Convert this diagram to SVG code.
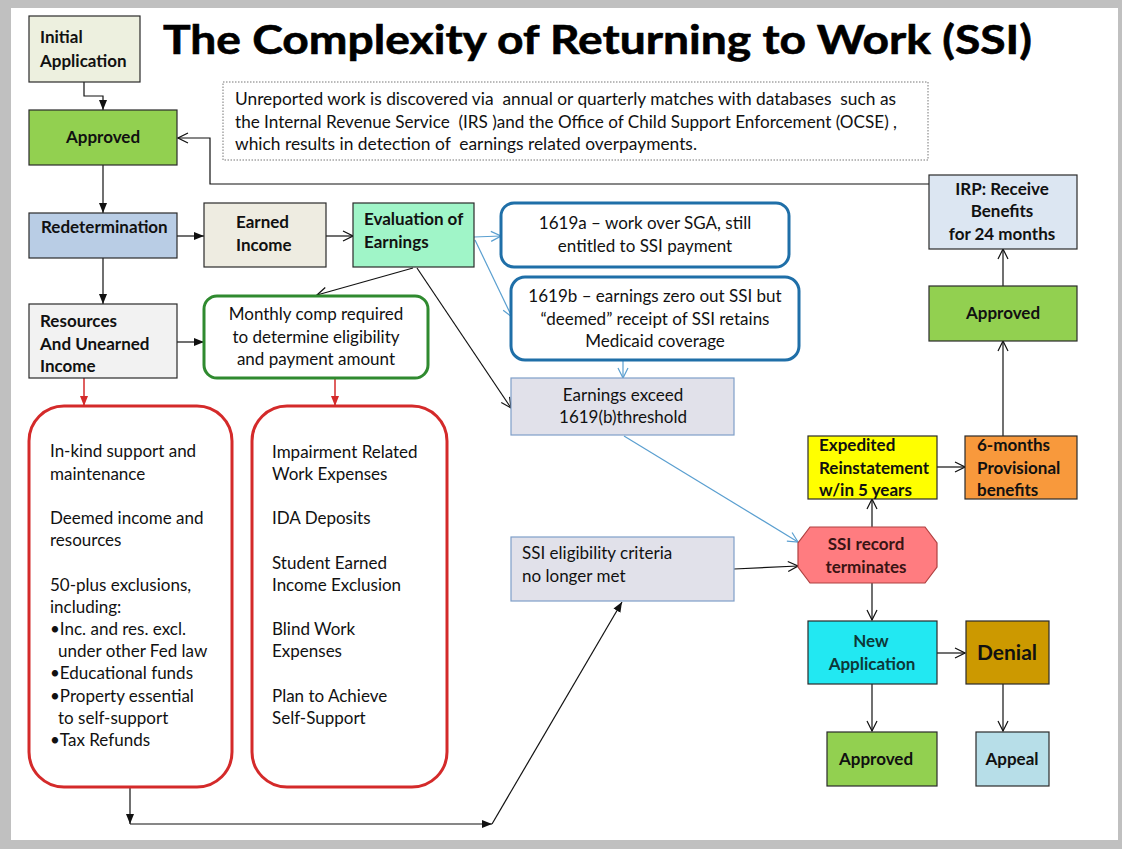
<svg xmlns="http://www.w3.org/2000/svg" width="1122" height="849" viewBox="0 0 1122 849">
<style>
.b{font-family:Lato,"Open Sans","Liberation Sans",sans-serif;font-weight:700;font-size:17px;fill:#111}
.r{font-family:Lato,"Open Sans","Liberation Sans",sans-serif;font-weight:400;font-size:17px;fill:#111}
.c{text-anchor:middle}
.pre{white-space:pre}
.box{stroke:#2a2a2a;stroke-width:1.2}
.k{fill:none;stroke:#111;stroke-width:1.2}
.bl{fill:none;stroke:#5a9fd0;stroke-width:1.2}
.rd{fill:none;stroke:#d42a2a;stroke-width:1.5}
.lav{fill:#e1e1ea;stroke:#7f9fc8;stroke-width:1.2}
</style>
<defs>
<marker id="af" viewBox="0 0 10 10" refX="10" refY="5" markerWidth="10" markerHeight="10" markerUnits="userSpaceOnUse" orient="auto"><path d="M0,1 L10,5 L0,9 z" fill="#111"/></marker>
<marker id="ao" viewBox="-1 -1 12 12" refX="10" refY="5" markerWidth="12" markerHeight="12" markerUnits="userSpaceOnUse" orient="auto"><path d="M0,0 L10,5 L0,10" fill="none" stroke="#111" stroke-width="1.2"/></marker>
<marker id="ab" viewBox="-1 -1 12 12" refX="10" refY="5" markerWidth="12" markerHeight="12" markerUnits="userSpaceOnUse" orient="auto"><path d="M0,0 L10,5 L0,10" fill="none" stroke="#5a9fd0" stroke-width="1.2"/></marker>
<marker id="ar" viewBox="0 0 10 10" refX="10" refY="5" markerWidth="10" markerHeight="10" markerUnits="userSpaceOnUse" orient="auto"><path d="M0,1 L10,5 L0,9 z" fill="#d42a2a"/></marker>
</defs>
<rect x="0" y="0" width="1122" height="849" fill="#c0c0c0"/>
<rect x="11" y="8" width="1107" height="832" fill="#ffffff"/>

<text x="163" y="54" font-family="Lato,'Open Sans','Liberation Sans',sans-serif" font-weight="700" font-size="40" fill="#000" stroke="#000" stroke-width="0.6" textLength="869" lengthAdjust="spacingAndGlyphs">The Complexity of Returning to Work (SSI)</text>

<g id="connectors">
<polyline points="84,82 84,96 103,96 103,110" class="k" marker-end="url(#af)"/>
<polyline points="929,184 210,184 210,138 178,138" class="k" marker-end="url(#ao)"/>
<line x1="103" y1="165" x2="103" y2="213" class="k" marker-end="url(#af)"/>
<line x1="177" y1="236" x2="204" y2="236" class="k" marker-end="url(#af)"/>
<line x1="326" y1="236" x2="353" y2="236" class="k" marker-end="url(#ao)"/>
<line x1="103" y1="258" x2="103" y2="304" class="k" marker-end="url(#af)"/>
<line x1="177" y1="342" x2="204" y2="342" class="k" marker-end="url(#af)"/>
<line x1="413" y1="268" x2="317" y2="295" class="k" marker-end="url(#ao)"/>
<line x1="417" y1="268" x2="511" y2="408" class="k" marker-end="url(#ao)"/>
<line x1="474" y1="237" x2="501" y2="236" class="bl" marker-end="url(#ab)"/>
<line x1="475" y1="240" x2="512" y2="317" class="bl" marker-end="url(#ab)"/>
<line x1="623" y1="360" x2="623" y2="378" class="bl" marker-end="url(#ab)"/>
<line x1="624" y1="436" x2="798" y2="542" class="bl" marker-end="url(#ab)"/>
<line x1="84" y1="378" x2="84" y2="406" class="rd" marker-end="url(#ar)"/>
<line x1="335" y1="378" x2="335" y2="406" class="rd" marker-end="url(#ar)"/>
<line x1="130" y1="787" x2="130" y2="824" class="k" marker-end="url(#af)"/>
<line x1="130" y1="824" x2="492" y2="824" class="k" marker-end="url(#af)"/>
<line x1="492" y1="824" x2="622" y2="602" class="k" marker-end="url(#af)"/>
<line x1="734" y1="569" x2="798" y2="566" class="k" marker-end="url(#ao)"/>
<line x1="872" y1="527" x2="872" y2="499" class="k" marker-end="url(#ao)"/>
<line x1="937" y1="467" x2="965" y2="467" class="k" marker-end="url(#ao)"/>
<line x1="1003" y1="436" x2="1003" y2="341" class="k" marker-end="url(#ao)"/>
<line x1="1003" y1="286" x2="1003" y2="249" class="k" marker-end="url(#ao)"/>
<line x1="872" y1="583" x2="872" y2="620" class="k" marker-end="url(#ao)"/>
<line x1="937" y1="653" x2="965" y2="653" class="k" marker-end="url(#ao)"/>
<line x1="872" y1="684" x2="872" y2="731" class="k" marker-end="url(#ao)"/>
<line x1="1003" y1="684" x2="1003" y2="731" class="k" marker-end="url(#ao)"/>
</g>

<g id="initial-application">
<rect x="29" y="16" width="111" height="66" fill="#edf0df" class="box"/>
<text x="40" y="43" class="b">Initial</text>
<text x="40" y="67" class="b">Application</text>
</g>
<g id="approved-top">
<rect x="29" y="110" width="148" height="55" fill="#92d050" class="box"/>
<text x="103" y="143" class="b c">Approved</text>
</g>
<g id="note-unreported">
<rect x="223" y="82" width="705" height="78" fill="#fff" stroke="#777" stroke-width="1" stroke-dasharray="1.5,1.5"/>
<text x="235" y="105" class="r pre" font-size="16.5" textLength="661" lengthAdjust="spacingAndGlyphs">Unreported work is discovered via  annual or quarterly matches with databases  such as</text>
<text x="235" y="128" class="r pre" font-size="16.5" textLength="662" lengthAdjust="spacingAndGlyphs">the Internal Revenue Service  (IRS )and the Office of Child Support Enforcement (OCSE) ,</text>
<text x="235" y="150" class="r pre" font-size="16.5" textLength="462" lengthAdjust="spacingAndGlyphs">which results in detection of  earnings related overpayments.</text>
</g>
<g id="redetermination">
<rect x="29" y="213" width="148" height="45" fill="#b9cde5" class="box"/>
<text x="41" y="233" class="b">Redetermination</text>
</g>
<g id="earned-income">
<rect x="204" y="203" width="122" height="64" fill="#eeece1" class="box"/>
<text x="236" y="228" class="b">Earned</text>
<text x="236" y="251" class="b">Income</text>
</g>
<g id="evaluation-of-earnings">
<rect x="353" y="203" width="121" height="64" fill="#a0f5c8" class="box"/>
<text x="364" y="225" class="b">Evaluation of</text>
<text x="364" y="248" class="b">Earnings</text>
</g>
<g id="resources">
<rect x="29" y="304" width="148" height="74" fill="#f2f2f2" class="box"/>
<text x="40" y="327" class="b">Resources</text>
<text x="40" y="350" class="b">And Unearned</text>
<text x="40" y="372" class="b">Income</text>
</g>
<g id="monthly-comp">
<rect x="204" y="296" width="224" height="82" rx="13" fill="#fff" stroke="#2f8a2f" stroke-width="3"/>
<text x="316" y="320" class="r c">Monthly comp required</text>
<text x="316" y="343" class="r c">to determine eligibility</text>
<text x="316" y="365" class="r c">and payment amount</text>
</g>
<g id="n1619a">
<rect x="501" y="203" width="288" height="64" rx="13" fill="#fff" stroke="#1f6fa8" stroke-width="3"/>
<text x="645" y="229" class="r c">1619a – work over SGA, still</text>
<text x="645" y="252" class="r c">entitled to SSI payment</text>
</g>
<g id="n1619b">
<rect x="511" y="277" width="288" height="83" rx="14" fill="#fff" stroke="#1f6fa8" stroke-width="3"/>
<text x="655" y="302" class="r c">1619b – earnings zero out SSI but</text>
<text x="655" y="325" class="r c">“deemed” receipt of SSI retains</text>
<text x="655" y="347" class="r c">Medicaid coverage</text>
</g>
<g id="earnings-exceed">
<rect x="511" y="378" width="223" height="57" class="lav"/>
<text x="623" y="401" class="r c">Earnings exceed</text>
<text x="623" y="423" class="r c">1619(b)threshold</text>
</g>
<g id="ssi-eligibility">
<rect x="511" y="537" width="223" height="64" class="lav"/>
<text x="522" y="559" class="r">SSI eligibility criteria</text>
<text x="522" y="582" class="r">no longer met</text>
</g>
<g id="left-exclusions">
<rect x="29" y="406" width="203" height="381" rx="35" fill="#fff" stroke="#d42a2a" stroke-width="3"/>
<text x="50" y="457" class="r">In-kind support and</text>
<text x="50" y="480" class="r">maintenance</text>
<text x="50" y="524" class="r">Deemed income and</text>
<text x="50" y="546" class="r">resources</text>
<text x="50" y="591" class="r">50-plus exclusions,</text>
<text x="50" y="613" class="r">including:</text>
<text x="50" y="635" class="r">•Inc. and res. excl.</text>
<text x="58" y="657" class="r">under other Fed law</text>
<text x="50" y="679" class="r">•Educational funds</text>
<text x="50" y="702" class="r">•Property essential</text>
<text x="58" y="724" class="r">to self-support</text>
<text x="50" y="746" class="r">•Tax Refunds</text>
</g>
<g id="right-exclusions">
<rect x="252" y="406" width="195" height="381" rx="35" fill="#fff" stroke="#d42a2a" stroke-width="3"/>
<text x="272" y="458" class="r">Impairment Related</text>
<text x="272" y="480" class="r">Work Expenses</text>
<text x="272" y="524" class="r">IDA Deposits</text>
<text x="272" y="569" class="r">Student Earned</text>
<text x="272" y="591" class="r">Income Exclusion</text>
<text x="272" y="635" class="r">Blind Work</text>
<text x="272" y="657" class="r">Expenses</text>
<text x="272" y="702" class="r">Plan to Achieve</text>
<text x="272" y="724" class="r">Self-Support</text>
</g>
<g id="irp">
<rect x="929" y="175" width="148" height="74" fill="#dce6f2" class="box"/>
<text x="1002" y="195" class="b c">IRP: Receive</text>
<text x="1002" y="217" class="b c">Benefits</text>
<text x="1002" y="240" class="b c">for 24 months</text>
</g>
<g id="approved-irp">
<rect x="929" y="286" width="148" height="55" fill="#92d050" class="box"/>
<text x="1003" y="319" class="b c">Approved</text>
</g>
<g id="expedited">
<rect x="808" y="436" width="129" height="63" fill="#ffff00" class="box"/>
<text x="819" y="451" class="b">Expedited</text>
<text x="819" y="474" class="b">Reinstatement</text>
<text x="819" y="496" class="b">w/in 5 years</text>
</g>
<g id="six-months">
<rect x="965" y="436" width="112" height="63" fill="#f8993c" class="box"/>
<text x="977" y="451" class="b">6-months</text>
<text x="977" y="474" class="b">Provisional</text>
<text x="977" y="496" class="b">benefits</text>
</g>
<g id="ssi-record-terminates">
<polygon points="810,527 925,527 937,543 937,567 925,583 810,583 798,567 798,543" fill="#ff7c80" stroke="#b04040" stroke-width="1.2"/>
<text x="866" y="550" class="b c" style="fill:#3a1414">SSI record</text>
<text x="866" y="573" class="b c" style="fill:#3a1414">terminates</text>
</g>
<g id="new-application">
<rect x="808" y="621" width="129" height="63" fill="#22e8f2" class="box"/>
<text x="871" y="647" class="b c" style="fill:#0d3838">New</text>
<text x="872" y="670" class="b c" style="fill:#0d3838">Application</text>
</g>
<g id="denial">
<rect x="966" y="621" width="83" height="63" fill="#cc9900" class="box"/>
<text x="1007" y="660" class="b c" style="font-size:21px">Denial</text>
</g>
<g id="approved-bottom">
<rect x="827" y="732" width="110" height="54" fill="#92d050" class="box"/>
<text x="876" y="765" class="b c">Approved</text>
</g>
<g id="appeal">
<rect x="976" y="732" width="73" height="54" fill="#b7dee8" class="box"/>
<text x="1012" y="765" class="b c">Appeal</text>
</g>
</svg>
